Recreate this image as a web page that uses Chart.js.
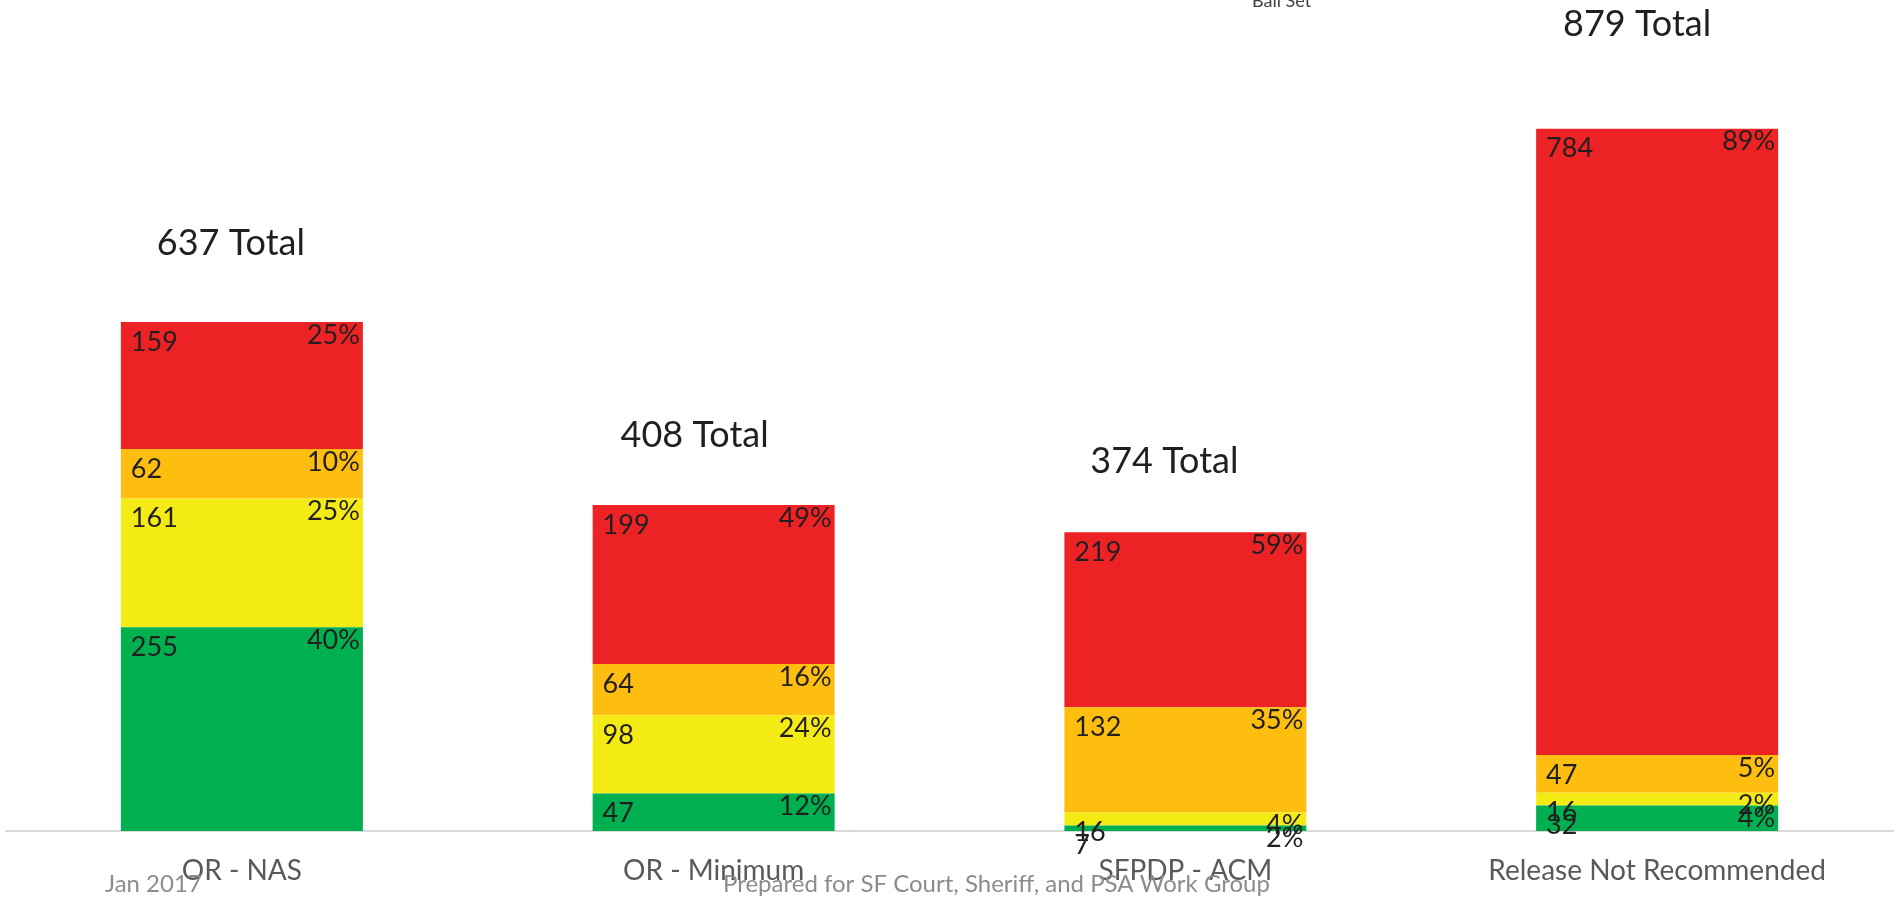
<!DOCTYPE html>
<html>
<head>
<meta charset="utf-8">
<script src="https://cdn.jsdelivr.net/npm/chart.js@4/dist/chart.umd.min.js"></script>
<style>
  html, body { margin: 0; padding: 0; background: #fff; }
  #wrap { width: 1896px; height: 900px; }
</style>
</head>
<body>
<div id="wrap"><canvas id="myChart" width="1896" height="900"></canvas></div>
<script>
// data
const categories = ['OR - NAS', 'OR - Minimum', 'SFPDP - ACM', 'Release Not Recommended'];
const greenVals  = [255, 47, 7, 32];
const yellowVals = [161, 98, 16, 16];
const orangeVals = [62, 64, 132, 47];
const redVals    = [159, 199, 219, 784];

// how far the "Total" boxes sit above / left of each bar (px)
const totalLift  = [79, 70, 71, 104];
const totalShift = [-11, -19, -21, -20];

const FONT = 'Lato, "Open Sans", sans-serif';
const textDark = '#231f20';

// totals per category
function sumAt(i) {
    return greenVals[i] + yellowVals[i] + orangeVals[i] + redVals[i];
}

// labels on each segment + totals + page text
const segLabels = {
    id: 'segLabels',
    afterDatasetsDraw(chart) {
        const ctx = chart.ctx;
        ctx.save();
        ctx.fillStyle = textDark;
        ctx.font = '27px ' + FONT;
        ctx.textBaseline = 'middle';
        chart.data.datasets.forEach((ds, di) => {
            const meta = chart.getDatasetMeta(di);
            meta.data.forEach((bar, i) => {
                const v = ds.data[i];
                const pct = Math.round(v / sumAt(i) * 100) + '%';
                const left = bar.x - bar.width / 2;
                const right = bar.x + bar.width / 2;
                ctx.textAlign = 'left';
                ctx.fillText(String(v), left + 10, bar.y + 20);
                ctx.textAlign = 'right';
                ctx.fillText(pct, right - 3, bar.y + 13);
            });
        });

        // totals above the stacks
        const top = chart.getDatasetMeta(chart.data.datasets.length - 1);
        ctx.font = '36px ' + FONT;
        ctx.textAlign = 'center';
        top.data.forEach((bar, i) => {
            ctx.fillText(sumAt(i) + ' Total', bar.x + totalShift[i], bar.y - totalLift[i]);
        });

        // cut off legend text at the very top
        ctx.font = '18px ' + FONT;
        ctx.fillStyle = '#404040';
        ctx.textAlign = 'left';
        ctx.textBaseline = 'alphabetic';
        ctx.fillText('Bail Set', 1252, 7);

        // footer
        ctx.font = '24px ' + FONT;
        ctx.fillStyle = '#8c8c8c';
        ctx.textBaseline = 'middle';
        ctx.fillText('Jan 2017', 105, 884);
        ctx.fillText('Prepared for SF Court, Sheriff, and PSA Work Group', 723, 884);
        ctx.restore();
    }
};

const ctx = document.getElementById('myChart').getContext('2d');
const myChart = new Chart(ctx, {
    type: 'bar',
    data: {
        labels: categories,
        datasets: [
            { label: 'Green',  data: greenVals,  backgroundColor: '#00b050' },
            { label: 'Yellow', data: yellowVals, backgroundColor: '#f5eb14' },
            { label: 'Orange', data: orangeVals, backgroundColor: '#fdbe10' },
            { label: 'Red',    data: redVals,    backgroundColor: '#ed2224' }
        ]
    },
    options: {
        responsive: false,
        animation: false,
        devicePixelRatio: 1,
        layout: { padding: { left: 6, right: 3, top: 0, bottom: 0 } },
        datasets: {
            bar: { categoryPercentage: 1, barPercentage: 0.513, borderWidth: 0 }
        },
        plugins: {
            legend: { display: false },
            tooltip: { enabled: false }
        },
        scales: {
            x: {
                stacked: true,
                grid: { display: false, drawTicks: false },
                border: { display: true, color: '#d9d9d9', width: 2 },
                afterFit(scale) { scale.height = 69; },
                ticks: {
                    padding: 23,
                    color: '#595959',
                    font: { family: FONT, size: 28 }
                }
            },
            y: {
                stacked: true,
                display: false,
                min: 0,
                max: 1040
            }
        }
    },
    plugins: [segLabels]
});
</script>
</body>
</html>
